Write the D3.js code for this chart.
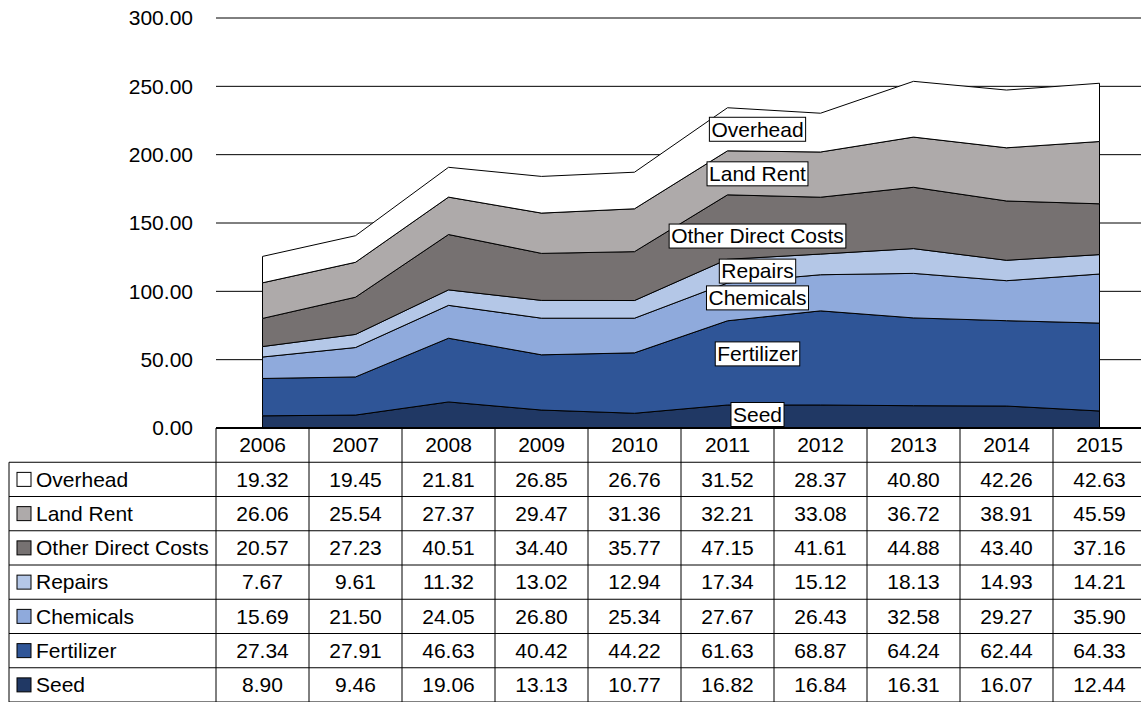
<!DOCTYPE html>
<html>
<head>
<meta charset="utf-8">
<script src="https://cdn.jsdelivr.net/npm/d3@7"></script>
<style>
  body { margin: 0; background: #fff; }
  svg { font-family: "Liberation Sans", Arial, sans-serif; }
</style>
</head>
<body>
<div id="chart"></div>
<script>
var years = ["2006", "2007", "2008", "2009", "2010", "2011", "2012", "2013", "2014", "2015"];

// bottom to top, as stacked
var seed       = [8.90, 9.46, 19.06, 13.13, 10.77, 16.82, 16.84, 16.31, 16.07, 12.44];
var fertilizer = [27.34, 27.91, 46.63, 40.42, 44.22, 61.63, 68.87, 64.24, 62.44, 64.33];
var chemicals  = [15.69, 21.50, 24.05, 26.80, 25.34, 27.67, 26.43, 32.58, 29.27, 35.90];
var repairs    = [7.67, 9.61, 11.32, 13.02, 12.94, 17.34, 15.12, 18.13, 14.93, 14.21];
var otherDirect = [20.57, 27.23, 40.51, 34.40, 35.77, 47.15, 41.61, 44.88, 43.40, 37.16];
var landRent   = [26.06, 25.54, 27.37, 29.47, 31.36, 32.21, 33.08, 36.72, 38.91, 45.59];
var overhead   = [19.32, 19.45, 21.81, 26.85, 26.76, 31.52, 28.37, 40.80, 42.26, 42.63];

var seriesNames = ["Seed", "Fertilizer", "Chemicals", "Repairs", "Other Direct Costs", "Land Rent", "Overhead"];
var seriesValues = [seed, fertilizer, chemicals, repairs, otherDirect, landRent, overhead];
var seriesColors = ["#203864", "#2f5597", "#8faadc", "#b4c7e7", "#767171", "#aeaaaa", "#ffffff"];

var yTicks = [0, 50, 100, 150, 200, 250, 300];
var labelYear = "2011";
// small vertical nudges (px) for the area labels, like the spreadsheet placed them
var labelNudge = [-2, -9, -4, 0, 9, 1, 0];

var W = 1141, H = 702;
var plotLeft = 216, colW = 93, baseY = 428, topY = 18;
var tableLeft = 9, rowH = 34.25;
var fontSize = 21;

var svg = d3.select("#chart").append("svg").attr("width", W).attr("height", H);

var x = d3.scaleBand().domain(years).range([plotLeft, plotLeft + colW * years.length]);
var xc = function(yr) { return x(yr) + x.bandwidth() / 2; };
var y = d3.scaleLinear().domain([0, 300]).range([baseY, topY]);

// table rows: top to bottom = reversed stack order
var rows = seriesNames.map(function(n, i) { return {name: n, values: seriesValues[i], color: seriesColors[i]}; }).reverse();

// stacked data
var table = years.map(function(yr, j) {
  var o = {year: yr};
  seriesNames.forEach(function(n, i) { o[n] = seriesValues[i][j]; });
  return o;
});
var stack = d3.stack().keys(seriesNames)(table);

// gridlines
svg.append("g").selectAll("line").data(yTicks.filter(function(t) { return t > 0; }))
  .enter().append("line")
  .attr("x1", plotLeft).attr("x2", W)
  .attr("y1", function(d) { return y(d); }).attr("y2", function(d) { return y(d); })
  .attr("stroke", "#000").attr("stroke-width", 1);

// y tick labels
svg.append("g").selectAll("text").data(yTicks).enter().append("text")
  .attr("x", 193).attr("y", function(d) { return y(d); })
  .attr("dy", "0.35em").attr("text-anchor", "end")
  .attr("font-size", fontSize)
  .text(function(d) { return d3.format(".2f")(d); });

// areas
var area = d3.area()
  .x(function(d) { return xc(d.data.year); })
  .y0(function(d) { return y(d[0]); })
  .y1(function(d) { return y(d[1]); });

svg.append("g").selectAll("path").data(stack).enter().append("path")
  .attr("d", area)
  .attr("fill", function(d, i) { return seriesColors[i]; })
  .attr("stroke", "#000").attr("stroke-width", 1);

// data labels on the areas
var li = years.indexOf(labelYear);
var labels = svg.append("g");
stack.forEach(function(s, i) {
  var mid = (s[li][0] + s[li][1]) / 2;
  var g = labels.append("g")
    .attr("transform", "translate(" + (xc(labelYear) + 30) + "," + (y(mid) + labelNudge[i]) + ")");
  var t = g.append("text").attr("text-anchor", "middle").attr("dy", "0.35em")
    .attr("font-size", fontSize).text(seriesNames[i]);
  var w = t.node().getComputedTextLength();
  g.insert("rect", "text")
    .attr("x", -w / 2 - 2).attr("y", -12).attr("width", w + 4).attr("height", 24)
    .attr("fill", "#fff").attr("stroke", "#000").attr("stroke-width", 1);
});

// data table
var tbl = svg.append("g");
var tableRight = plotLeft + colW * years.length;

// header years
tbl.selectAll("text.yr").data(years).enter().append("text")
  .attr("class", "yr")
  .attr("x", function(d) { return xc(d); })
  .attr("y", baseY + rowH / 2).attr("dy", "0.35em")
  .attr("text-anchor", "middle").attr("font-size", fontSize)
  .text(function(d) { return d; });

rows.forEach(function(r, i) {
  var cy = baseY + rowH * (i + 1) + rowH / 2;
  tbl.append("rect")
    .attr("x", 17).attr("y", cy - 7).attr("width", 14).attr("height", 14)
    .attr("fill", r.color).attr("stroke", "#000").attr("stroke-width", 1);
  tbl.append("text").attr("x", 36).attr("y", cy).attr("dy", "0.35em")
    .attr("font-size", fontSize).text(r.name);
  tbl.selectAll(null).data(r.values).enter().append("text")
    .attr("x", function(d, j) { return xc(years[j]); })
    .attr("y", cy).attr("dy", "0.35em")
    .attr("text-anchor", "middle").attr("font-size", fontSize)
    .text(function(d) { return d3.format(".2f")(d); });
});

// table grid
for (var k = 1; k <= rows.length + 1; k++) {
  tbl.append("line")
    .attr("x1", tableLeft).attr("x2", tableRight)
    .attr("y1", baseY + rowH * k).attr("y2", baseY + rowH * k)
    .attr("stroke", "#000").attr("stroke-width", 1);
}
tbl.append("line").attr("x1", tableLeft).attr("x2", tableLeft)
  .attr("y1", baseY + rowH).attr("y2", baseY + rowH * (rows.length + 1))
  .attr("stroke", "#000");
years.forEach(function(yr) {
  tbl.append("line").attr("x1", x(yr)).attr("x2", x(yr))
    .attr("y1", baseY).attr("y2", baseY + rowH * (rows.length + 1))
    .attr("stroke", "#000");
});
// axis / table top border
tbl.append("line").attr("x1", plotLeft).attr("x2", W)
  .attr("y1", baseY).attr("y2", baseY)
  .attr("stroke", "#000").attr("stroke-width", 2);
</script>
</body>
</html>
